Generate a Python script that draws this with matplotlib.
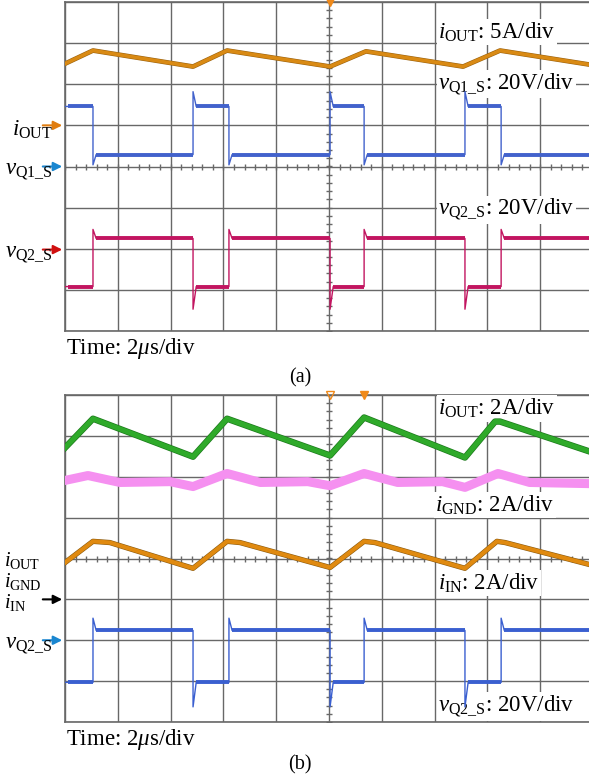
import matplotlib
matplotlib.use("Agg")
import matplotlib.pyplot as plt
import matplotlib.patheffects as pe
import numpy as np

plt.rcParams['font.family'] = ['Liberation Serif', 'DejaVu Serif']
plt.rcParams['mathtext.fontset'] = 'custom'
plt.rcParams['mathtext.rm'] = 'Liberation Serif'
plt.rcParams['mathtext.it'] = 'Liberation Serif:italic'

# time in us, amplitude in divisions (0 = screen centre)
# ---- panel (a) ----
a_iout_t = [0, 1.06, 4.85, 6.14, 10.04, 11.40, 15.08, 16.48, 19.85, 20]
a_iout_y = [2.50, 2.82, 2.43, 2.82, 2.43, 2.80, 2.43, 2.82, 2.48, 2.47]

a_vq1_edges = [1.06, 4.85, 6.21, 10.04, 11.33, 15.15, 16.52]
a_vq1_lo, a_vq1_hi = 0.29, 1.46
a_vq1_start_high = True

a_vq2_edges = [1.06, 4.85, 6.21, 10.04, 11.33, 15.15, 16.52]
a_vq2_lo, a_vq2_hi = -2.92, -1.75
a_vq2_start_high = False

# ---- panel (b) ----
b_iout_t = [0, 1.06, 4.85, 6.14, 10.04, 11.33, 15.15, 16.29, 16.48, 20]
b_iout_y = [2.71, 3.42, 2.49, 3.42, 2.52, 3.45, 2.47, 3.35, 3.35, 2.59]

b_ignd_t = [0, 0.87, 2.08, 3.98, 4.85, 6.14, 7.4, 9.2, 10.04, 11.33, 12.6, 14.3, 15.15, 16.4, 17.6, 20]
b_ignd_y = [1.91, 2.03, 1.86, 1.88, 1.76, 2.08, 1.86, 1.88, 1.78, 2.08, 1.86, 1.88, 1.74, 2.08, 1.86, 1.83]

b_iin_t = [0, 1.06, 1.70, 4.85, 6.14, 6.63, 10.04, 11.33, 11.74, 15.15, 16.36, 16.67, 20]
b_iin_y = [-0.10, 0.42, 0.39, -0.24, 0.42, 0.39, -0.22, 0.42, 0.39, -0.24, 0.42, 0.39, -0.17]

b_vq2_edges = [1.06, 4.85, 6.21, 10.04, 11.33, 15.15, 16.52]
b_vq2_lo, b_vq2_hi = -3.03, -1.76
b_vq2_start_high = False

grid_col = '#686868'
FS = 16.5


def step_trace(edges, lo, hi, start_high, over, under, t_end=20):
    t, y = [0], [hi if start_high else lo]
    high = start_high
    for e in edges:
        if high:
            t += [e, e, e + 0.12]
            y += [hi, lo - under, lo]
        else:
            t += [e, e, e + 0.12]
            y += [lo, hi + over, hi]
        high = not high
    t.append(t_end)
    y.append(hi if high else lo)
    return t, y


def flats(edges, lo, hi, start_high, t_end=20):
    segs = []
    bounds = [0] + list(edges) + [t_end]
    high = start_high
    for i in range(len(bounds) - 1):
        lvl = hi if high else lo
        segs.append(([bounds[i] + 0.12, bounds[i + 1]], [lvl, lvl]))
        high = not high
    return segs


def scope_axes(rect):
    ax = fig.add_axes(rect)
    ax.set_xlim(0, 20)
    ax.set_ylim(-4, 4)
    ax.set_xticks(np.arange(0, 21, 2))
    ax.set_yticks(np.arange(-4, 5, 1))
    ax.grid(True, color=grid_col, lw=1.0)
    ax.tick_params(length=0, labelbottom=False, labelleft=False)
    for s in ax.spines.values():
        s.set_color(grid_col)
        s.set_linewidth(1.2)
    ax.set_axisbelow(True)
    # small graticule ticks on the centre lines
    ax.plot(np.arange(0, 20.01, 0.4), np.zeros(51), ls='none', marker='|',
            color=grid_col, ms=4, mew=1, zorder=1)
    ax.plot(np.full(41, 10.0), np.arange(-4, 4.01, 0.2), ls='none', marker='_',
            color=grid_col, ms=4, mew=1, zorder=1)
    return ax


def draw_step(ax, edges, lo, hi, start_high, color, over, under):
    t, y = step_trace(edges, lo, hi, start_high, over, under)
    ax.plot(t, y, color=color, lw=1.0, zorder=4)
    for st, sy in flats(edges, lo, hi, start_high):
        ax.plot(st, sy, color=color, lw=2.8, zorder=4, solid_capstyle='butt')


def label(ax, x, y, s):
    ax.text(x, y, s, fontsize=FS, va='center', ha='left', zorder=3,
            bbox=dict(facecolor='white', edgecolor='none', pad=1.0))


def side(ax, y_arrow, color):
    ax.annotate('', xy=(0, y_arrow), xytext=(-18, 0), textcoords='offset points',
                xycoords='data', annotation_clip=False,
                arrowprops=dict(arrowstyle='-|>', color=color, lw=1.5, mutation_scale=13))


fig = plt.figure(figsize=(5.89, 7.80), dpi=100)

# ---------------- panel (a) ----------------
ax = scope_axes([65 / 589, 1 - 331 / 780, 528 / 589, 329 / 780])
ax.plot(a_iout_t, a_iout_y, color='#d98a14', lw=2.6, zorder=4,
        path_effects=[pe.Stroke(linewidth=3.4, foreground='#9a6210'), pe.Normal()])
draw_step(ax, a_vq1_edges, a_vq1_lo, a_vq1_hi, a_vq1_start_high, '#4262cc', 0.36, 0.25)
draw_step(ax, a_vq2_edges, a_vq2_lo, a_vq2_hi, a_vq2_start_high, '#c21560', 0.22, 0.55)

label(ax, 14.13, 3.26, r'$i_{\rm OUT}$: 5A/div')
label(ax, 14.13, 2.0, r'$v_{\rm Q1\_S}$: 20V/div')
label(ax, 14.13, -1.05, r'$v_{\rm Q2\_S}$: 20V/div')

side(ax, 1.0, '#e07d10')
side(ax, 0.0, '#1a86d0')
side(ax, -2.02, '#d01010')
ax.text(-0.45, 0.9, r'$i_{\rm OUT}$', fontsize=FS, ha='right', va='center')
ax.text(-0.45, -0.12, r'$v_{\rm Q1\_S}$', fontsize=FS, ha='right', va='center')
ax.text(-0.45, -2.14, r'$v_{\rm Q2\_S}$', fontsize=FS, ha='right', va='center')
ax.plot([10.04], [4.0], marker='v', color='#f08a1a', ms=6, clip_on=False, zorder=6)
ax.text(0.05, -4.12, r'Time: 2$\mu$s/div', fontsize=FS, ha='left', va='top')

fig.text(300 / 589, 1 - 378 / 780, '(a)', fontsize=14.5, ha='center', va='center')

# ---------------- panel (b) ----------------
bx = scope_axes([65 / 589, 1 - 722 / 780, 528 / 589, 327 / 780])
bx.plot(b_iout_t, b_iout_y, color='#2faa2a', lw=3.6, zorder=4,
        path_effects=[pe.Stroke(linewidth=4.6, foreground='#1c7a1c'), pe.Normal()])
bx.plot(b_ignd_t, b_ignd_y, color='#f590f0', lw=6.5, zorder=4)
bx.plot(b_iin_t, b_iin_y, color='#e08a10', lw=3.0, zorder=4,
        path_effects=[pe.Stroke(linewidth=3.8, foreground='#8a5a10'), pe.Normal()])
draw_step(bx, b_vq2_edges, b_vq2_lo, b_vq2_hi, b_vq2_start_high, '#3a5fd0', 0.3, 0.6)

label(bx, 14.13, 3.67, r'$i_{\rm OUT}$: 2A/div')
label(bx, 14.02, 1.30, r'$i_{\rm GND}$: 2A/div')
label(bx, 14.13, -0.61, r'$i_{\rm IN}$: 2A/div')
label(bx, 14.13, -3.62, r'$v_{\rm Q2\_S}$: 20V/div')

side(bx, -1.0, 'black')
side(bx, -2.0, '#1a86d0')
bx.text(-2.3, -0.05, r'$i_{\rm OUT}$', fontsize=14.5, ha='left', va='center')
bx.text(-2.3, -0.57, r'$i_{\rm GND}$', fontsize=14.5, ha='left', va='center')
bx.text(-2.3, -1.08, r'$i_{\rm IN}$', fontsize=14.5, ha='left', va='center')
bx.text(-0.45, -2.13, r'$v_{\rm Q2\_S}$', fontsize=FS, ha='right', va='center')
bx.plot([10.04], [4.0], marker='v', mfc='none', mec='#f08a1a', ms=6, clip_on=False, zorder=6)
bx.plot([11.33], [4.0], marker='v', color='#f08a1a', ms=6, clip_on=False, zorder=6)
bx.text(0.05, -4.12, r'Time: 2$\mu$s/div', fontsize=FS, ha='left', va='top')

fig.text(300 / 589, 1 - 765 / 780, '(b)', fontsize=14.5, ha='center', va='center')

fig.savefig('out.png', dpi=100)
